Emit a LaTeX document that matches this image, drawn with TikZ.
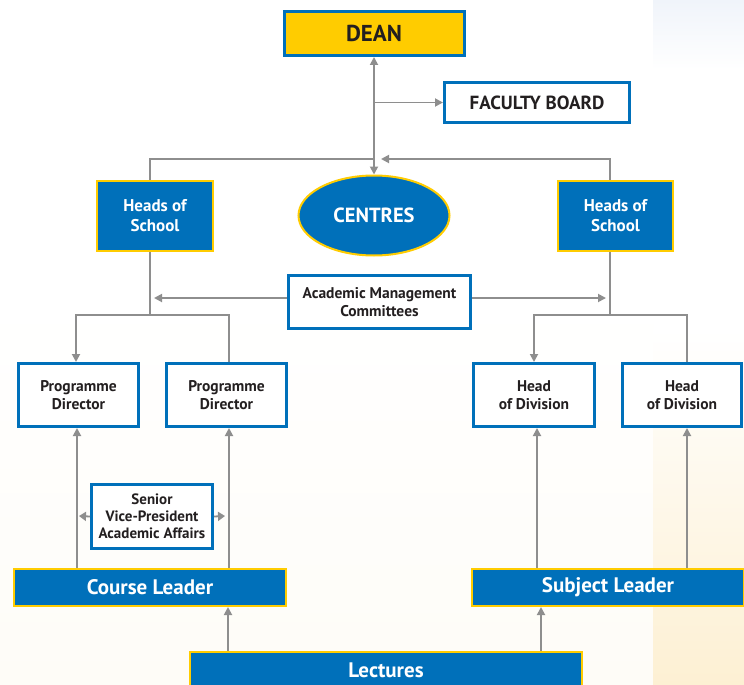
\documentclass[tikz,border=0pt]{standalone}
\usepackage{fontspec}
\setmainfont{PT Sans}
\usetikzlibrary{arrows.meta,shapes.geometric,calc}
\definecolor{cblue}{HTML}{0070BA}
\definecolor{cyel}{HTML}{FFCC00}
\definecolor{cgray}{HTML}{8E8E8E}
\definecolor{ctext}{HTML}{231F20}
\definecolor{bgblue}{HTML}{F0F4FA}
\definecolor{bgcream}{HTML}{FDF0D3}
\definecolor{bgcreamlight}{HTML}{FEFCF7}
\begin{document}
\begin{tikzpicture}[x=1pt,y=-1pt,
  bluebox/.style={rectangle, draw=cyel, fill=cblue, line width=2pt, text=white, align=center, inner sep=0pt},
  whitebox/.style={rectangle, draw=cblue, fill=white, line width=3pt, text=ctext, align=center, inner sep=0pt},
  conn/.style={draw=cgray, line width=1.8pt},
  tip/.style={-{Triangle[length=8pt,width=8pt]}},
  fa/.style 2 args={font=\bfseries\fontsize{#1}{#2}\selectfont}]
\useasboundingbox (0,0) rectangle (744,685);
% background
\fill[white] (0,0) rectangle (744,685);
\shade[top color=white, bottom color=bgcreamlight] (0,300) rectangle (653,685);
\shade[top color=bgblue, bottom color=white] (653,0) rectangle (744,70);
\shade[top color=white, bottom color=bgcream] (653,330) rectangle (744,685);

% nodes
\node[whitebox, fill=cyel, minimum width=180, minimum height=44, fa={23}{26}] (dean) at (374,33.5) {DEAN};
\node[whitebox, minimum width=185, minimum height=40, fa={19}{22}] (faculty) at (537,102.5) {FACULTY BOARD};
\node[bluebox, minimum width=116, minimum height=70, fa={17}{20}] (hosL) at (155,216) {Heads of\\School};
\node[bluebox, minimum width=115, minimum height=70, fa={17}{20}] (hosR) at (615.5,216) {Heads of\\School};
\node[ellipse, draw=cyel, fill=cblue, line width=2pt, text=white, inner sep=0pt, minimum width=151, minimum height=80, fa={20.5}{24}] (centres) at (374,215.5) {CENTRES};
\node[whitebox, minimum width=182, minimum height=53, fa={15.5}{18}] (amc) at (379.5,302) {Academic Management\\Committees};
\node[whitebox, minimum width=120, minimum height=63, fa={15.5}{18}] (pd1) at (78.5,395) {Programme\\Director};
\node[whitebox, minimum width=120, minimum height=63, fa={15.5}{18}] (pd2) at (226.5,395) {Programme\\Director};
\node[whitebox, minimum width=121, minimum height=63, fa={15.5}{18}] (hod1) at (534,395) {Head\\of Division};
\node[whitebox, minimum width=119, minimum height=63, fa={15.5}{18}] (hod2) at (682,395) {Head\\of Division};
\node[whitebox, minimum width=121, minimum height=64, fa={15}{17}] (svp) at (152,516.5) {Senior\\Vice-President\\Academic Affairs};
\node[bluebox, minimum width=272, minimum height=37, fa={21}{24}] (cl) at (150,587.5) {Course Leader};
\node[bluebox, minimum width=272, minimum height=37, fa={21}{24}] (sl) at (608,587.5) {Subject Leader};
\node[bluebox, minimum width=392, minimum height=37, fa={21}{24}] (lect) at (386,670) {Lectures};

% coordinates
\coordinate (tl) at (150,159);
\coordinate (tr) at (610,159);
\coordinate (tc) at (381,159);
\coordinate (aL) at (154,298);
\coordinate (aR) at (606,298);
\coordinate (jl) at (150,315);
\coordinate (bl1) at (76,315);
\coordinate (bl2) at (229,315);
\coordinate (jr) at (610,315);
\coordinate (br1) at (534,315);
\coordinate (br2) at (687,315);
\coordinate (xl1) at (77,0);
\coordinate (xl2) at (229,0);
\coordinate (xr1) at (537,0);
\coordinate (xr2) at (687,0);
\coordinate (xa) at (228,0);
\coordinate (xb) at (541,0);
\coordinate (sv1) at (79,516);
\coordinate (sv2) at (225,516);

% connectors
\draw[conn, {Triangle[length=8pt,width=8pt]}-{Triangle[length=8pt,width=8pt]}] (dean.south) -- (centres.north);
\draw[conn, tip] (dean.south |- faculty.west) -- (faculty.west);
\draw[conn] (hosL.north -| tl) -- (tl) -- (tl -| dean.south);
\draw[conn, tip] (hosR.north -| tr) -- (tr) -- (tc);
\draw[conn, tip] (amc.west |- aL) -- (aL);
\draw[conn, tip] (amc.east |- aR) -- (aR);
\draw[conn] (hosL.south -| jl) -- (jl);
\draw[conn, tip] (bl2 |- pd2.north) -- (bl2) -- (bl1) -- (bl1 |- pd1.north);
\draw[conn] (hosR.south -| jr) -- (jr);
\draw[conn, tip] (br2 |- hod2.north) -- (br2) -- (br1) -- (br1 |- hod1.north);
\draw[conn, tip] (cl.north -| xl1) -- (pd1.south -| xl1);
\draw[conn, tip] (cl.north -| xl2) -- (pd2.south -| xl2);
\draw[conn, tip] (sl.north -| xr1) -- (hod1.south -| xr1);
\draw[conn, tip] (sl.north -| xr2) -- (hod2.south -| xr2);
\draw[conn, tip] (lect.north -| xa) -- (cl.south -| xa);
\draw[conn, tip] (lect.north -| xb) -- (sl.south -| xb);
\draw[conn, -{Triangle[length=7pt,width=9pt]}] (svp.west) -- (sv1);
\draw[conn, -{Triangle[length=7pt,width=9pt]}] (svp.east) -- (sv2);
\end{tikzpicture}
\end{document}
